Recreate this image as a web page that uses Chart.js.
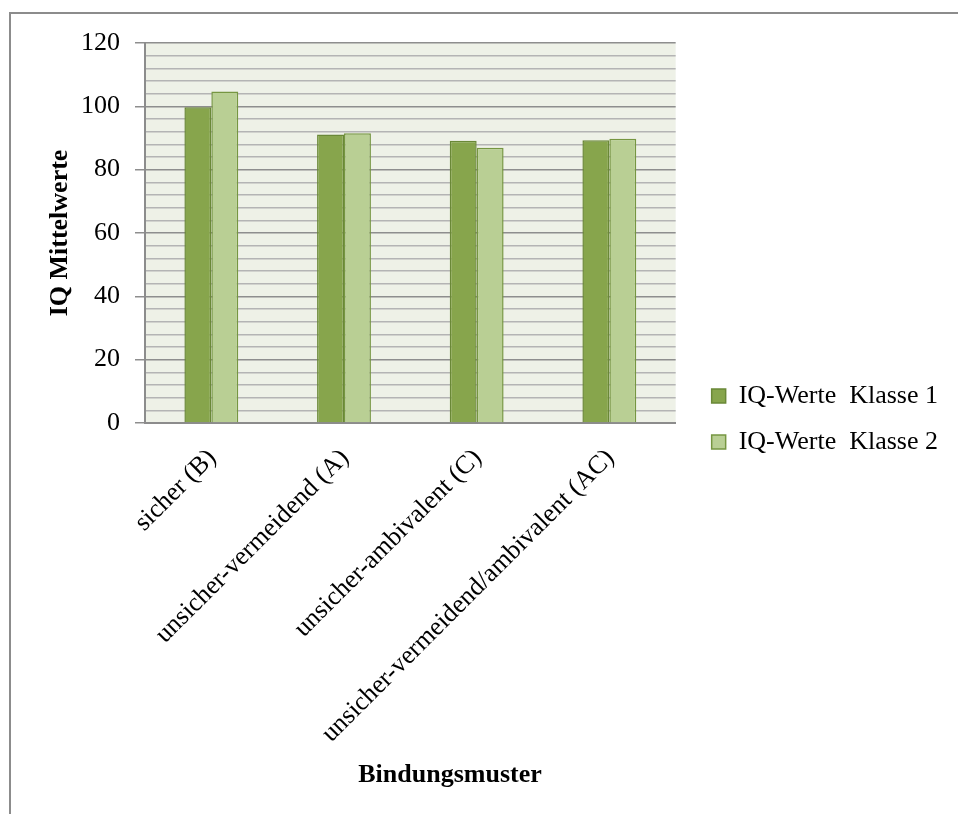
<!DOCTYPE html>
<html>
<head>
<meta charset="utf-8">
<script src="https://cdn.jsdelivr.net/npm/chart.js@4/dist/chart.umd.min.js"></script>
<style>
  html, body { margin: 0; padding: 0; background: #ffffff; }
  #wrap { position: relative; width: 958px; height: 814px; overflow: hidden; }
  #frame { position: absolute; left: 9px; top: 12px; right: -10px; bottom: -10px;
           border-left: 2px solid #8c8c8c; border-top: 2px solid #8c8c8c; }
  canvas { position: absolute; left: 0; top: 0; }
</style>
</head>
<body>
<div id="wrap">
  <div id="frame"></div>
  <canvas id="chart" width="958" height="814"></canvas>
</div>
<script>
// Bindungsmuster and mean IQ per class
const categories = ['sicher (B)', 'unsicher-vermeidend (A)', 'unsicher-ambivalent (C)', 'unsicher-vermeidend/ambivalent (AC)'];
const klasse1 = [99.7, 91.1, 89.1, 89.3];
const klasse2 = [104.7, 91.5, 86.9, 89.8];
const seriesNames = ['IQ-Werte  Klasse 1', 'IQ-Werte  Klasse 2'];
const yTickLabels = [0, 20, 40, 60, 80, 100, 120];
const yTitle = 'IQ Mittelwerte';
const xTitle = 'Bindungsmuster';

const FONT = "'Liberation Serif', 'Times New Roman', serif";

// light plot background behind the bars
const plotBackground = {
  id: 'plotBackground',
  beforeDraw(chart) {
    const { ctx, chartArea: a } = chart;
    ctx.save();
    ctx.fillStyle = '#eef1e7';
    ctx.fillRect(a.left, a.top, a.right - a.left, a.bottom - a.top);
    ctx.restore();
  }
};

// category axis caption, set slightly right of the plot centre
const xCaption = {
  id: 'xCaption',
  afterDraw(chart, args, opts) {
    const { ctx } = chart;
    ctx.save();
    ctx.font = 'bold 26px ' + FONT;
    ctx.fillStyle = '#000';
    ctx.textAlign = 'center';
    ctx.textBaseline = 'middle';
    ctx.fillText(opts.text, opts.x, opts.y);
    ctx.restore();
  }
};

new Chart(document.getElementById('chart'), {
  type: 'bar',
  data: {
    labels: categories,
    datasets: [
      { label: seriesNames[0], data: klasse1, backgroundColor: '#87a54c', borderColor: '#6a8837', borderWidth: 1.5 },
      { label: seriesNames[1], data: klasse2, backgroundColor: '#b9cf94', borderColor: '#769641', borderWidth: 1.5 }
    ]
  },
  options: {
    responsive: false,
    animation: false,
    devicePixelRatio: 1,
    layout: { padding: { top: 43, left: 0, right: 10, bottom: 19 } },
    datasets: { bar: { categoryPercentage: 0.406, barPercentage: 1.0 } },
    scales: {
      x: {
        grid: { display: false },
        border: { display: true, color: '#8c8c8c', width: 2 },
        ticks: {
          color: '#000', font: { family: FONT, size: 26 },
          minRotation: 45, maxRotation: 45, autoSkip: false, padding: 12, labelOffset: 1
        },
        afterFit(scale) { scale.height = 372; }
      },
      y: {
        min: 0, max: 120,
        ticks: {
          stepSize: 4, autoSkip: false, padding: 15, color: '#000',
          font: { family: FONT, size: 26 },
          callback: (v) => yTickLabels.includes(v) ? String(v) : ''
        },
        grid: {
          color: (c) => yTickLabels.includes(c.tick.value) ? '#8e8e8e' : '#b4b4b4',
          lineWidth: 1.5,
          tickLength: 10,
          tickColor: (c) => yTickLabels.includes(c.tick.value) ? '#8e8e8e' : 'rgba(0,0,0,0)'
        },
        border: { display: true, color: '#8c8c8c', width: 2 },
        title: {
          display: true, text: yTitle, color: '#000',
          font: { family: FONT, size: 26, weight: 'bold' },
          padding: { top: 45, bottom: 0 }
        },
        afterFit(scale) { scale.width = 145; }
      },
      gap: {
        position: 'right', display: true,
        grid: { display: false }, border: { display: false },
        ticks: { display: false },
        afterFit(scale) { scale.width = 16; }
      }
    },
    plugins: {
      legend: {
        position: 'right',
        maxWidth: 266,
        labels: {
          color: '#000', font: { family: FONT, size: 26 },
          boxWidth: 14, boxHeight: 14, padding: 20
        }
      },
      tooltip: { enabled: false },
      xCaption: { text: xTitle, x: 450, y: 775 }
    }
  },
  plugins: [plotBackground, xCaption]
});
</script>
</body>
</html>
